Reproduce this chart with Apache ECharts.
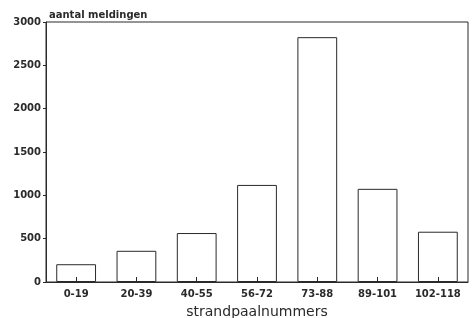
<!DOCTYPE html>
<html>
<head>
<meta charset="utf-8">
<script src="https://cdn.jsdelivr.net/npm/echarts@6/dist/echarts.min.js"></script>
<style>
    html, body { margin: 0; padding: 0; background: #fff; }
    #chart { width: 474px; height: 318px; }
</style>
</head>
<body>
<div id="chart"></div>
<script>
    // strandpaal-groepen en aantal meldingen
    const categories = ['0-19', '20-39', '40-55', '56-72', '73-88', '89-101', '102-118']
    const meldingen = [205, 360, 565, 1120, 2825, 1075, 580]
    const yTicks = [0, 500, 1000, 1500, 2000, 2500, 3000]

    const ink = '#2a2a2a'
    const font = 'DejaVu Sans'
    const chart = echarts.init(document.getElementById('chart'))

    chart.setOption({
        animation: false,
        title: {
            text: 'aantal meldingen',
            left: 44,
            top: 5,
            textStyle: {
                color: ink,
                fontFamily: font,
                fontSize: 10,
                fontWeight: 'bold'
            }
        },
        grid: {
            left: 46,
            right: 6,
            top: 22,
            bottom: 36,
            outerBoundsMode: 'none',
            containLabel: false,
            show: true,
            borderColor: ink,
            borderWidth: 1
        },
        xAxis: {
            type: 'category',
            data: categories,
            z: 10,
            name: 'strandpaalnummers',
            nameLocation: 'middle',
            nameGap: 23,
            nameTextStyle: {
                color: ink,
                fontFamily: font,
                fontSize: 14
            },
            axisLine: { lineStyle: { color: ink, width: 1 } },
            axisTick: {
                show: true,
                alignWithLabel: true,
                inside: true,
                length: 5,
                lineStyle: { color: ink, width: 1 }
            },
            axisLabel: {
                color: ink,
                fontFamily: font,
                fontSize: 10,
                fontWeight: 'bold',
                margin: 7
            }
        },
        yAxis: {
            type: 'value',
            min: yTicks[0],
            max: yTicks[yTicks.length - 1],
            interval: 500,
            axisLine: { show: true, lineStyle: { color: ink, width: 1 } },
            axisTick: { show: true, length: 3, lineStyle: { color: ink } },
            splitLine: { show: false },
            axisLabel: {
                color: ink,
                fontFamily: font,
                fontSize: 10,
                fontWeight: 'bold',
                margin: 5,
                formatter: function (value) {
                    return String(value)
                }
            }
        },
        series: [{
            type: 'bar',
            data: meldingen,
            barWidth: '66%',
            z: 1,
            itemStyle: {
                color: '#fff',
                borderColor: ink,
                borderWidth: 1
            }
        }]
    })
</script>
</body>
</html>
